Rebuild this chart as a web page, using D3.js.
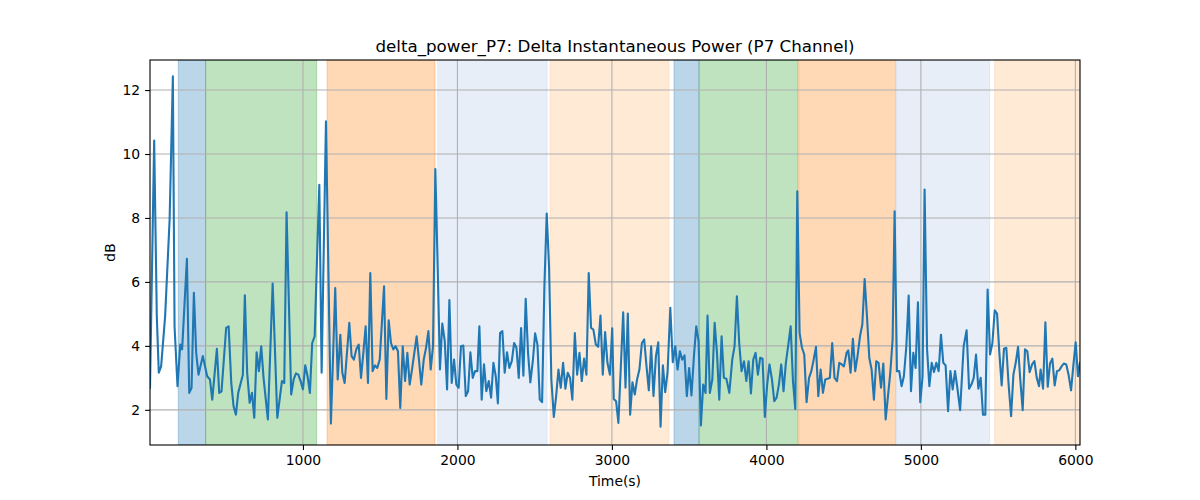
<!DOCTYPE html>
<html>
<head>
<meta charset="utf-8">
<script src="https://cdn.jsdelivr.net/npm/d3@7"></script>
<style>
  html, body { margin: 0; padding: 0; background: #ffffff; }
  svg { display: block; font-family: "DejaVu Sans", sans-serif; }
</style>
</head>
<body>
<svg id="chart" width="1200" height="500"></svg>
<script>
// ---- data ----
const times = [10,37,54,67,82,108,137,158,169,188,206,218,249,264,279,294,309,324,352,380,398,413,443,458,473,503,519,536,551,566,581,611,624,639,655,670,685,700,715,730,745,773,804,834,864,879,894,924,940,955,970,985,1000,1015,1030,1045,1060,1076,1091,1106,1121,1149,1181,1209,1225,1242,1255,1270,1300,1315,1330,1345,1361,1376,1391,1406,1421,1436,1451,1466,1481,1497,1525,1540,1555,1570,1585,1600,1615,1630,1646,1661,1676,1691,1706,1736,1751,1766,1782,1797,1812,1827,1842,1857,1872,1887,1902,1918,1933,1948,1963,1978,1993,2008,2023,2038,2054,2069,2084,2099,2114,2129,2142,2157,2172,2187,2203,2218,2233,2248,2262,2276,2291,2306,2321,2336,2352,2367,2382,2397,2412,2427,2442,2457,2472,2488,2503,2518,2533,2548,2563,2578,2593,2608,2624,2639,2654,2669,2684,2699,2714,2729,2744,2760,2775,2790,2805,2820,2835,2850,2865,2880,2896,2911,2926,2941,2956,2971,2987,3002,3012,3027,3042,3073,3088,3103,3118,3133,3148,3163,3178,3194,3209,3224,3239,3254,3269,3285,3300,3315,3330,3345,3360,3378,3394,3410,3425,3440,3455,3470,3485,3500,3515,3531,3546,3561,3576,3591,3606,3619,3634,3650,3665,3680,3695,3710,3725,3741,3760,3779,3794,3809,3824,3839,3855,3870,3885,3900,3915,3930,3945,3960,3975,3990,4005,4020,4036,4051,4066,4081,4096,4111,4126,4142,4157,4172,4187,4200,4215,4230,4245,4260,4276,4291,4306,4321,4336,4351,4366,4381,4396,4411,4426,4441,4457,4472,4487,4502,4519,4530,4545,4560,4575,4590,4606,4621,4636,4651,4666,4681,4696,4711,4726,4742,4757,4772,4787,4802,4817,4830,4845,4860,4875,4890,4906,4921,4936,4951,4966,4981,4996,5011,5024,5040,5055,5070,5085,5100,5115,5130,5145,5160,5176,5191,5206,5221,5236,5254,5277,5296,5312,5327,5342,5357,5372,5387,5402,5417,5432,5448,5463,5478,5493,5508,5523,5538,5553,5568,5584,5599,5614,5629,5644,5659,5674,5689,5704,5720,5735,5750,5765,5775,5791,5806,5821,5836,5851,5866,5881,5896,5911,5926,5941,5956,5972,5987,6002,6017,6030];
const values = [2.69,10.42,4.93,3.16,3.36,4.93,7.95,12.43,4.6,2.74,4.04,3.89,6.72,2.53,2.69,5.66,3.78,3.1,3.68,3.05,2.95,2.32,3.91,2.53,2.58,4.56,4.61,2.84,2.11,1.85,2.53,3.1,5.58,3.16,2.22,2.53,1.75,3.8,3.21,3.99,3.0,1.7,5.95,1.75,2.9,2.84,8.18,2.48,2.95,3.14,3.1,2.9,2.64,3.39,3.05,2.53,4.09,4.3,6.7,9.04,3.16,11.02,1.57,5.81,2.95,4.35,3.16,2.84,4.72,3.68,3.57,3.89,4.04,3.0,3.78,4.61,2.84,6.28,3.21,3.39,3.31,3.57,5.86,2.34,4.8,4.09,3.89,3.99,3.83,2.06,3.99,2.9,3.78,2.79,3.26,4.3,3.57,2.79,3.57,3.94,4.46,3.26,3.99,9.53,6.49,3.26,4.7,4.15,2.64,5.43,2.84,3.57,2.79,2.69,3.99,4.01,2.43,2.58,3.8,3.0,3.21,3.21,4.61,2.32,3.42,2.58,2.9,2.38,3.47,3.05,2.2,4.4,4.46,3.16,3.8,3.31,3.52,4.09,3.94,3.0,4.56,3.07,5.47,3.78,2.86,3.52,4.39,4.04,2.32,2.24,5.86,8.14,6.49,2.95,1.78,2.43,3.26,2.69,3.47,2.66,3.16,3.0,2.32,4.4,3.1,3.78,2.9,3.6,3.1,6.28,4.56,4.51,4.04,3.97,4.95,3.1,4.43,3.47,3.1,4.55,2.34,2.27,1.59,5.05,2.69,5.01,1.85,2.86,2.48,2.95,3.26,4.09,4.2,3.36,2.61,3.99,2.43,3.68,4.11,1.47,3.39,2.55,3.16,5.19,3.49,3.99,3.26,3.83,3.57,3.7,2.43,3.31,2.45,3.68,4.61,4.15,1.51,2.79,2.53,4.95,2.53,2.95,4.72,3.78,2.32,4.3,3.0,2.97,2.53,3.57,3.99,5.55,4.09,3.21,3.52,2.9,3.52,2.51,3.57,3.78,3.1,3.63,3.6,1.78,2.79,3.42,2.95,2.27,2.38,2.79,3.42,2.58,3.47,4.04,4.61,2.9,2.03,8.83,4.4,3.95,3.73,2.24,3.0,3.21,3.57,3.97,2.43,3.26,2.53,2.95,2.97,3.0,4.09,3.0,2.9,3.47,3.42,3.36,3.78,3.86,3.16,4.22,3.21,3.68,4.3,4.67,6.09,4.93,3.63,3.26,2.32,3.52,3.47,2.69,3.45,1.7,2.43,3.16,4.2,8.21,3.21,3.21,2.74,3.05,3.99,5.57,2.58,3.78,3.31,5.36,2.24,3.05,8.89,3.89,2.74,3.47,3.18,3.47,3.21,4.35,3.47,3.39,1.96,3.21,2.64,3.21,2.69,1.99,3.99,4.49,2.66,2.79,3.0,3.73,2.66,3.0,1.85,1.85,5.76,3.73,4.09,5.11,5.01,3.78,2.76,3.91,3.94,2.79,1.8,3.1,3.47,3.97,2.9,1.99,3.89,3.83,3.18,3.42,3.52,3.0,2.74,3.26,2.66,4.74,2.72,3.45,3.6,2.76,3.21,3.24,3.36,3.45,3.42,3.1,2.61,3.39,4.11,3.05,3.47];

const spanStarts = [193, 370, 1156, 1872, 2600, 3402, 3564, 4209, 4843, 5478];
const spanEnds   = [370, 1089, 1855, 2580, 3369, 3564, 4204, 4837, 5445, 6030];
const spanColors = ["#1f77b4", "#2ca02c", "#ff7f0e", "#aec7e8", "#ffbb78",
                    "#1f77b4", "#2ca02c", "#ff7f0e", "#aec7e8", "#ffbb78"];

const xTicks = [1000, 2000, 3000, 4000, 5000, 6000];
const yTicks = [2, 4, 6, 8, 10, 12];
const xDomain = [10, 6030];
const yDomain = [0.9, 12.94];

const titleText = "delta_power_P7: Delta Instantaneous Power (P7 Channel)";
const xLabelText = "Time(s)";
const yLabelText = "dB";

// ---- layout ----
const L = 150, R = 1080, T = 60, B = 445;
const svg = d3.select("#chart");

const x = d3.scaleLinear().domain(xDomain).range([L, R]);
const y = d3.scaleLinear().domain(yDomain).range([B, T]);

svg.append("defs").append("clipPath").attr("id", "plotclip")
  .append("rect").attr("x", L).attr("y", T).attr("width", R - L).attr("height", B - T);

const plot = svg.append("g").attr("clip-path", "url(#plotclip)");

// spans
const spans = spanStarts.map((s, i) => ({ s, e: spanEnds[i], c: spanColors[i] }));
plot.append("g").selectAll("rect").data(spans).join("rect")
  .attr("x", d => x(d.s))
  .attr("y", T)
  .attr("width", d => x(d.e) - x(d.s))
  .attr("height", B - T)
  .attr("fill", d => d.c)
  .attr("fill-opacity", 0.3)
  .attr("stroke", d => d.c)
  .attr("stroke-opacity", 0.3)
  .attr("stroke-width", 1);

// grid
const grid = plot.append("g").attr("stroke", "#b0b0b0").attr("stroke-width", 1.1);
grid.selectAll("line.gx").data(xTicks).join("line").attr("class", "gx")
  .attr("x1", d => x(d)).attr("x2", d => x(d)).attr("y1", T).attr("y2", B);
grid.selectAll("line.gy").data(yTicks).join("line").attr("class", "gy")
  .attr("y1", d => y(d)).attr("y2", d => y(d)).attr("x1", L).attr("x2", R);

// line
const pts = times.map((t, i) => [t, values[i]]);
plot.append("path").datum(pts)
  .attr("fill", "none")
  .attr("stroke", "#1f77b4")
  .attr("stroke-width", 2.1)
  .attr("stroke-linejoin", "round")
  .attr("stroke-linecap", "square")
  .attr("d", d3.line().x(d => x(d[0])).y(d => y(d[1])));

// axes
const xAxis = svg.append("g").attr("transform", `translate(0,${B})`)
  .call(d3.axisBottom(x).tickValues(xTicks).tickFormat(d3.format("d")).tickSize(4.9).tickPadding(4.9));
const yAxis = svg.append("g").attr("transform", `translate(${L},0)`)
  .call(d3.axisLeft(y).tickValues(yTicks).tickFormat(d3.format("d")).tickSize(4.9).tickPadding(4.9));
[xAxis, yAxis].forEach(a => {
  a.select(".domain").remove();
  a.selectAll(".tick line").attr("stroke", "#000").attr("stroke-width", 1.1);
  a.selectAll(".tick text").attr("fill", "#000")
    .style("font-family", "'DejaVu Sans', sans-serif").style("font-size", "13.9px");
});

// frame
svg.append("rect").attr("x", L).attr("y", T).attr("width", R - L).attr("height", B - T)
  .attr("fill", "none").attr("stroke", "#000").attr("stroke-width", 1.1);

// texts
svg.append("text").attr("x", (L + R) / 2).attr("y", 52)
  .attr("text-anchor", "middle").style("font-size", "16.7px").attr("fill", "#000")
  .text(titleText);
svg.append("text").attr("x", (L + R) / 2).attr("y", 486)
  .attr("text-anchor", "middle").style("font-size", "13.9px").attr("fill", "#000")
  .text(xLabelText);
svg.append("text").attr("transform", `translate(115,${(T + B) / 2}) rotate(-90)`)
  .attr("text-anchor", "middle").style("font-size", "13.9px").attr("fill", "#000")
  .text(yLabelText);
</script>
</body>
</html>
